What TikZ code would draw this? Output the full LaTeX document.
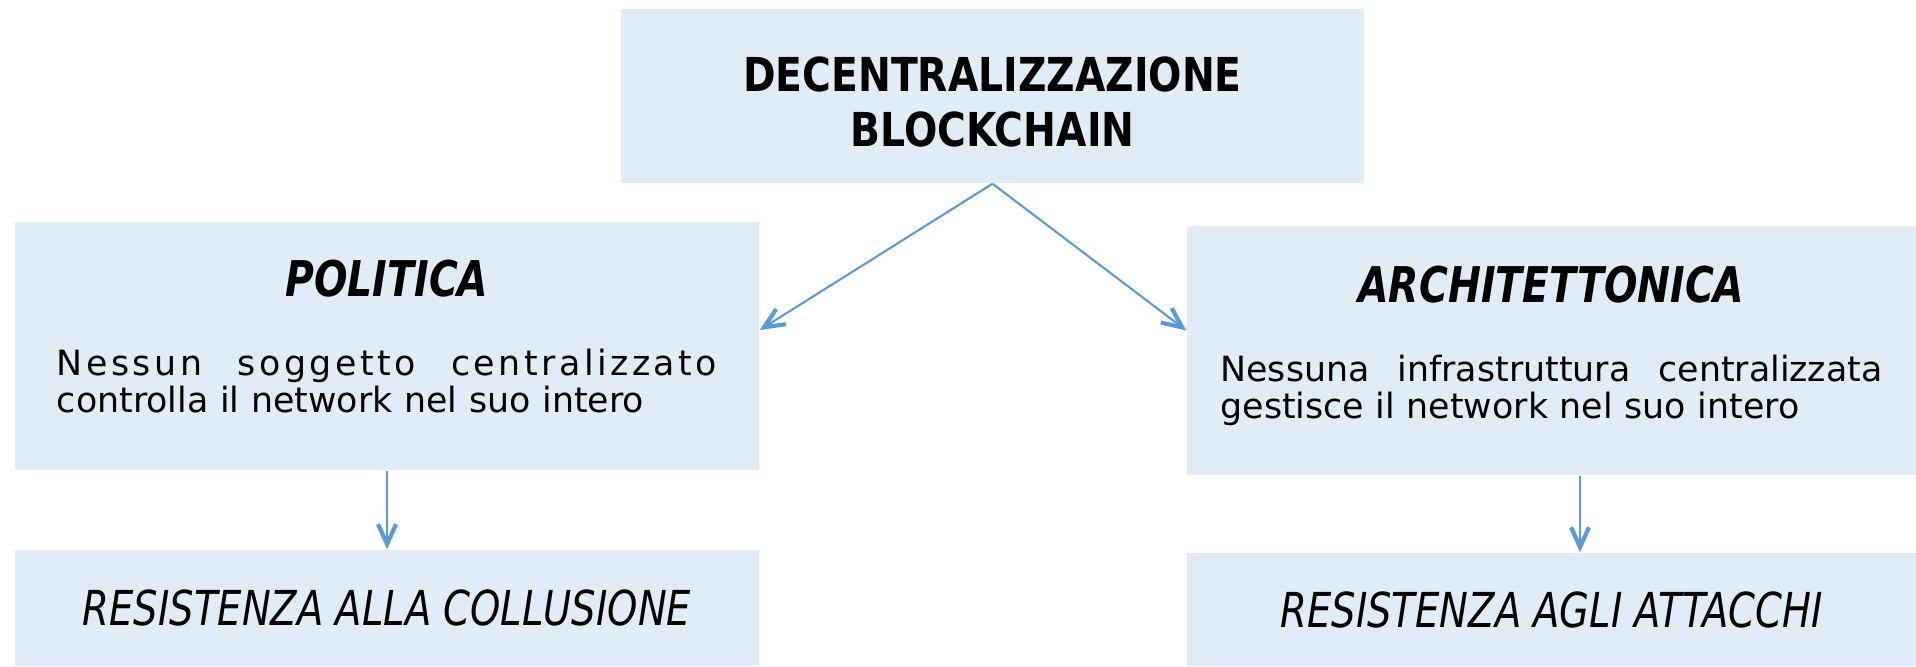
\documentclass[tikz,border=0pt]{standalone}
\usepackage{fontspec}
\setmainfont{DejaVu Sans}
\newfontfamily\capsfont[FakeStretch=0.8]{DejaVu Sans}
\newfontfamily\headfont[FakeStretch=0.84]{DejaVu Sans}
\usepackage{xcolor}
\usepackage{tikz}
\usetikzlibrary{arrows.meta}
\definecolor{PaleBlue}{HTML}{E0ECF7}
\definecolor{LinkBlue}{HTML}{5B9BD5}

\begin{document}
\begin{tikzpicture}[
    box/.style={fill=PaleBlue,inner sep=0pt,align=center},
    link/.style={LinkBlue,line width=0.6pt,-{Straight Barb[length=2mm,width=1.8mm,line width=1.2pt]}},
    headtxt/.style={font=\headfont\fontsize{13.3}{15.6}\selectfont\bfseries}
  ]
  \useasboundingbox (0,0) rectangle (19.16,6.66);
  \node[box,headtxt,minimum width=7.43cm,minimum height=1.74cm] (top) at (9.925,5.70) {\rule{0pt}{0.46cm}DECENTRALIZZAZIONE\\BLOCKCHAIN};
  \node[box,text width=6.6cm,minimum width=7.44cm,minimum height=2.48cm,align=left] (pol) at (3.87,3.20) {%
    {\centering\capsfont\fontsize{14}{15}\selectfont\bfseries\itshape POLITICA\par}
    \vspace{12pt}
    {\fontsize{9.9}{10.5}\selectfont{\addfontfeature{LetterSpace=10}Nessun\hfill soggetto\hfill centralizzato}\\
    controlla il network nel suo intero\rule[-0.2cm]{0pt}{0.2cm}\par}};
  \node[box,text width=6.62cm,minimum width=7.29cm,minimum height=2.49cm,align=left] (arch) at (15.515,3.155) {%
    {\centering\capsfont\fontsize{14}{15}\selectfont\bfseries\itshape ARCHITETTONICA\par}
    \vspace{12pt}
    {\fontsize{9.9}{10.5}\selectfont Nessuna\hfill infrastruttura\hfill centralizzata\\
    gestisce il network nel suo intero\rule[-0.17cm]{0pt}{0.17cm}\par}};
  \node[box,font=\capsfont\fontsize{13.7}{15}\selectfont\itshape,minimum width=7.44cm,minimum height=1.16cm] (coll) at (3.87,0.58) {RESISTENZA ALLA COLLUSIONE};
  \node[box,font=\capsfont\fontsize{13.7}{15}\selectfont\itshape,minimum width=7.29cm,minimum height=1.13cm] (att) at (15.515,0.565) {RESISTENZA AGLI ATTACCHI};
  \draw[link] (top.south) -- ([yshift=1.6mm]pol.east);
  \draw[link] (top.south) -- ([yshift=2mm]arch.west);
  \draw[link] (pol.south) -- (coll.north);
  \draw[link] ([xshift=2.85mm]arch.south) -- ([xshift=2.85mm]att.north);
\end{tikzpicture}
\end{document}
